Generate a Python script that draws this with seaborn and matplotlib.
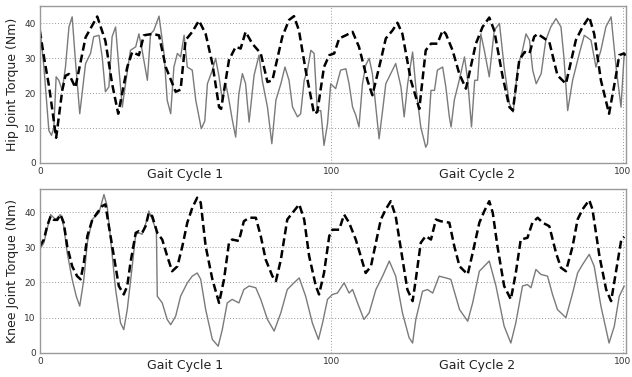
import matplotlib
matplotlib.use("Agg")
import matplotlib.pyplot as plt
import seaborn as sns
import pandas as pd

hip_dash_x = [0, 1.5, 3.2, 5.6, 7.7, 8.8, 10, 12.2, 15.7, 19.7, 22.5, 24.8, 26.9, 30, 31.7, 34,
              35.7, 38.6, 40.9, 43.2, 46.6, 48.3, 50, 52.3, 54.6, 56.9, 59.2, 61.5, 62.2, 64.9,
              67.2, 68.9, 70.6, 72.9, 75.8, 78.1, 79.8, 83.2, 85.5, 87.2, 88.9, 91.2, 94.1, 95.2,
              97.5, 99.3, 101, 102.7, 105, 107.3, 109.5, 112.4, 114.1, 117, 118.7, 121, 122.7,
              124.4, 127.3, 130.2, 132.4, 134.2, 136.4, 138.2, 139.3, 141.6, 143.9, 146.2, 149.6,
              151.9, 154.2, 155.9, 158.8, 161.1, 162.3, 164.5, 166.3, 168, 169.6, 170.8, 173.1,
              174.8, 177.6, 180.5, 183.9, 186.2, 188.5, 190.2, 192.5, 195.3, 197.6, 198.8, 200.4, 201]
hip_dash = [38, 30, 21.8, 7.2, 20.8, 25, 25.5, 21.6, 36, 42, 35, 22.7, 14.1, 27.5, 31.8, 30.9,
            36.6, 37, 36.6, 27.5, 20.4, 21, 35.2, 37.6, 40.8, 37, 28.5, 16, 15.5, 29.5,
            33.3, 32.8, 37.6, 34.2, 31.4, 23.2, 23.7, 36.2, 41, 42.1, 38, 26.6, 14.1, 14.6,
            27.5, 30.9, 31.4, 35.7, 36.6, 37.6, 33.3, 23.7, 19.4, 29.5, 35.7, 38, 40.2,
            37, 23.7, 15.5, 32.3, 34.2, 34.2, 38, 37, 32.3, 25.6, 21.3, 34.2,
            39, 41.7, 38, 24.7, 16, 15, 29.5, 31.8, 31.4, 36.2, 37, 35.7,
            34.7, 25.1, 22.7, 35.2, 39, 41.9, 37, 23.7, 14.1, 24.7, 30.9, 31.4, 30.8]

hip_solid_x = [0, 1.4, 3.1, 4, 4.8, 5.6, 6.5, 7.7, 8.8, 10, 11.1, 12.2, 13.7, 15.7, 17.4, 18.5,
               20.3, 21.4, 22.5, 23.7, 24.8, 26, 27.1, 28.3, 29.4, 31.1, 32.9, 34, 35.1, 36.9,
               38, 39.1, 40.9, 42.6, 43.7, 44.9, 46, 47.2, 48.3, 49.5, 50.6, 52.3, 53.5, 55.4,
               56.6, 57.5, 59.2, 60.3, 61.5, 62.6, 63.8, 64.9, 66, 67.2, 68.3, 69.5, 70.6, 71.8,
               73.5, 75.2, 76.3, 78.1, 79.6, 81, 82.7, 84.1, 85.5, 86.7, 88.4, 89.5, 90.7, 91.8,
               93, 94.1, 95.2, 96.4, 97.5, 98.7, 99.8, 101.5, 103.2, 105, 106.1, 107.3, 108.4,
               109.5, 110.7, 111.8, 113, 114.1, 115.3, 116.4, 117.6, 118.7, 120.4, 122.1, 123.9,
               125, 126.2, 127.9, 129, 130.7, 132.4, 133, 134.2, 135.4, 136.4, 138.2, 139.3,
               140.5, 141.1, 142.2, 143.9, 145.7, 146.8, 148.1, 149.2, 150.2, 151.3, 152.5,
               154.2, 155.9, 157.7, 159.3, 161.1, 162.4, 164, 165.6, 166.8, 168, 169.1, 170.3,
               172, 173.6, 175.3, 177.1, 178.8, 179.8, 181.1, 182.8, 185.1, 186.8, 189.1, 190.8,
               192.5, 194.2, 196, 197.7, 199.4, 200.5, 201]
hip_solid = [39, 27.5, 9.3, 7.9, 10, 24.7, 23.7, 20.8, 27.5, 39, 41.9, 29.5, 14.1, 28.5, 31.4, 36.2,
             36.6, 30.4, 20.4, 21.8, 36.2, 39, 27.5, 16, 22.7, 32.3, 33.3, 37, 32.3, 23.7,
             37, 38, 42.1, 31.4, 18, 14.1, 27.5, 31.4, 30.4, 36.6, 27.5, 26.6, 18, 9.8,
             12, 22.7, 26.6, 30, 24.7, 18, 22.7, 18, 12.5, 7.4, 19.9, 25.6, 22.7, 11.7,
             25.1, 30.9, 23.7, 16, 5.5, 18, 22.7, 27.5, 23.7, 16, 13.2, 14.1, 23.7, 26.6,
             32.3, 31.4, 15, 15, 5, 11.2, 22.7, 21.3, 26.6, 27, 22.7, 16, 13.7,
             10.3, 22.7, 28, 30, 25.6, 16, 6.9, 15, 22.7, 25.6, 28.5, 21.8,
             13.2, 22.7, 31.8, 21.8, 10.3, 4.5, 5.5, 20.8, 20.8, 26.6, 27.5, 21.8,
             13.2, 10.3, 18, 23.7, 30.4, 23.7, 10.3, 23.7, 23.7, 37, 32.3,
             24.7, 38, 40, 27.5, 17, 14.6, 27.5, 32.3, 37, 35.2, 26.6, 22.7,
             25.6, 35.2, 39, 41.4, 39, 30.4, 15, 23.7, 31.4, 36.6, 35.2, 27.5,
             32.3, 39, 41.9, 27.5, 16, 31.4, 31]

knee_dash_x = [0, 1.4, 2.5, 3.7, 4.8, 6, 7.1, 8.2, 9.4, 11.1, 12.8, 14, 15.1, 16.3, 18, 19.7, 21.4,
               22.5, 23.7, 25.4, 27.1, 28.8, 30, 31.1, 32.9, 34, 35.1, 36.3, 37.4, 38.6, 40.3, 42,
               43.7, 45.4, 47.2, 48.9, 50.6, 52.3, 54, 55.2, 56.9, 59.2, 61.5, 63.2, 64.9, 66,
               68.3, 70, 71.8, 74.1, 75.8, 77.5, 79.8, 81, 82.7, 84.9, 86.7, 89, 90.7, 92.4, 94.7,
               95.8, 97.5, 99.3, 100.4, 102.7, 104.4, 106.1, 108.4, 110.1, 111.8, 113.6, 115.3,
               117, 118.7, 120.4, 122.1, 123.9, 126.1, 127.9, 129, 130.7, 132.4, 134.2, 135.9,
               137.6, 140.5, 142.2, 144, 146.8, 148.5, 150.8, 152.5, 154.2, 155.4, 157, 159.3,
               161.6, 163.3, 165, 167.3, 169, 170.8, 172.5, 174.8, 177.1, 178.8, 180.5, 182.8,
               184.5, 186.2, 188.5, 189.6, 192, 194.3, 196, 197.8, 199.5, 200.5]
knee_dash = [30.3, 32.2, 36, 38.8, 37.8, 37.8, 39.3, 37, 30.3, 24.6, 21.8, 20.9, 25.6, 33.2, 37.8, 39.8, 41.7,
             42.2, 36, 27.5, 19, 16.6, 19, 25.6, 34.1, 34.6, 34.1, 36, 39.8, 38.8, 34.1, 32.2,
             27.5, 23.2, 24.6, 30.3, 37, 41.2, 44.1, 42.7, 30.3, 20.9, 14.2, 20.9, 31.3, 32.2,
             31.8, 37.4, 38.4, 38.4, 33.2, 26.5, 21.8, 20.4, 26.5, 37.9, 39.8, 42.2, 37.9, 27.5, 19,
             16.6, 22.7, 33.2, 35, 35, 39.3, 37, 32.2, 27.5, 22.7, 24.6, 31.3,
             37.9, 40.8, 43.1, 38.8, 29.4, 18, 14.7, 20.9, 31.3, 33.2, 32.2, 37.9,
             37.4, 37, 30.3, 24.6, 22.3, 28.4, 37, 40.3, 43.1, 39.8, 30.3, 19,
             15.2, 22.7, 32.2, 32.7, 37, 38.4, 37, 36, 28.4, 24.2, 23.2, 30.3,
             37.9, 40.8, 43.4, 40.8, 27.5, 18, 14.7, 23.7, 32.2, 33]

knee_solid_x = [0, 1.4, 3.7, 5.4, 7.1, 8.2, 9.4, 11.1, 12.5, 13.7, 15.1, 16.3, 18, 20.3, 22, 23.1,
                24.3, 26, 27.7, 28.8, 30, 31.7, 32.9, 34, 35.1, 36.8, 37.4, 38.6, 40, 40.3, 42,
                43.7, 44.9, 46.6, 48.3, 50.6, 52.3, 54, 55.2, 56.9, 59.2, 61.2, 62.6, 64.3, 66,
                68.3, 70, 71.8, 74.1, 75.8, 78.1, 80.4, 82.7, 84.9, 87.2, 89, 91.2, 93.5, 95.6,
                97, 98.7, 100.4, 102.1, 104.4, 106.1, 107.3, 109, 111.2, 113, 115.3, 117.6,
                119.9, 122.1, 124.4, 126.7, 127.9, 129, 131.3, 133, 134.8, 137, 139.3, 141, 144,
                146.8, 148.5, 150.8, 154.2, 156.5, 159.3, 161.6, 163.3, 165.6, 167.3, 168.5,
                170.2, 171.9, 174.2, 175.9, 177.6, 180.5, 182.8, 184.5, 186.2, 188.5, 190.2,
                192.5, 195.3, 197.1, 198.8, 200.5]
knee_solid = [29.4, 31.3, 39.3, 37.9, 39.3, 36, 28.4, 20.9, 16.1, 13.3, 20.9, 31.3, 37.9, 39.8, 45, 41.7,
              32.2, 18, 8.5, 6.6, 12.3, 24.6, 33.7, 34.1, 33.7, 37.9, 40.3, 37.9, 34.6, 16.1, 14.2,
              9.5, 8, 10.4, 16.1, 19.9, 21.8, 22.7, 20.9, 12.3, 3.8, 1.9, 6.6, 14.2, 15.2,
              14.2, 18, 19, 18.5, 15.2, 9.5, 6.2, 11.4, 18, 19.9, 21.3, 16.1, 8.5, 3.8,
              8.5, 15.2, 16.6, 17, 19.9, 17, 18, 14.2, 9.5, 11.4, 18, 21.8,
              26.1, 21.8, 11.4, 4.3, 2.8, 9.5, 17.5, 18, 17, 21.8, 21.3, 20.9, 12.3,
              9, 14.2, 23.2, 26.1, 19, 7.6, 2.8, 8.5, 19, 19.4, 18.5,
              23.7, 22.3, 21.8, 16.6, 12.3, 10, 17, 22.7, 25.1, 28, 24.6,
              13.3, 2.8, 7.6, 16.1, 19]

tick_pos = [0, 100, 200]
tick_labels = ["0", "100", "100"]
cycle_labels = ["Gait Cycle 1", "Gait Cycle 2"]

sns.set_style("white")
plt.rcParams['font.family'] = ['DejaVu Sans']

fig = plt.figure(figsize=(6.32, 3.77), dpi=100)
ax1 = fig.add_axes([0.063, 0.568, 0.927, 0.416])
ax2 = fig.add_axes([0.063, 0.064, 0.927, 0.435])

panels = [
    (ax1, hip_solid_x, hip_solid, hip_dash_x, hip_dash, "Hip Joint Torque (Nm)", 45),
    (ax2, knee_solid_x, knee_solid, knee_dash_x, knee_dash, "Knee Joint Torque (Nm)", 46.6),
]

for ax, sx, sy, dx, dy, ylab, ytop in panels:
    sns.lineplot(x=sx, y=sy, ax=ax, color="#7a7a7a", linewidth=1.0, sort=False)
    sns.lineplot(x=dx, y=dy, ax=ax, color="black", linewidth=1.8, sort=False,
                 linestyle=(0, (3.2, 1.6)))
    ax.set_xlim(0, 201)
    ax.set_ylim(0, ytop)
    ax.set_yticks([0, 10, 20, 30, 40])
    ax.set_xticks(tick_pos)
    ax.set_xticklabels(tick_labels)
    ax.grid(True, color="#9a9a9a", linestyle=(0, (1, 2)), linewidth=0.7)
    ax.tick_params(axis="both", labelsize=6.5, colors="#333333", length=0, pad=3)
    for s in ax.spines.values():
        s.set_color("#999999")
        s.set_linewidth(1.0)
    ax.set_ylabel(ylab, fontsize=9, color="#222222", labelpad=4)
    for i, lab in enumerate(cycle_labels):
        ax.text(50 + 100 * i, -0.035, lab, transform=ax.get_xaxis_transform(),
                ha="center", va="top", fontsize=9, color="#222222")

fig.savefig("out.png", dpi=100)
